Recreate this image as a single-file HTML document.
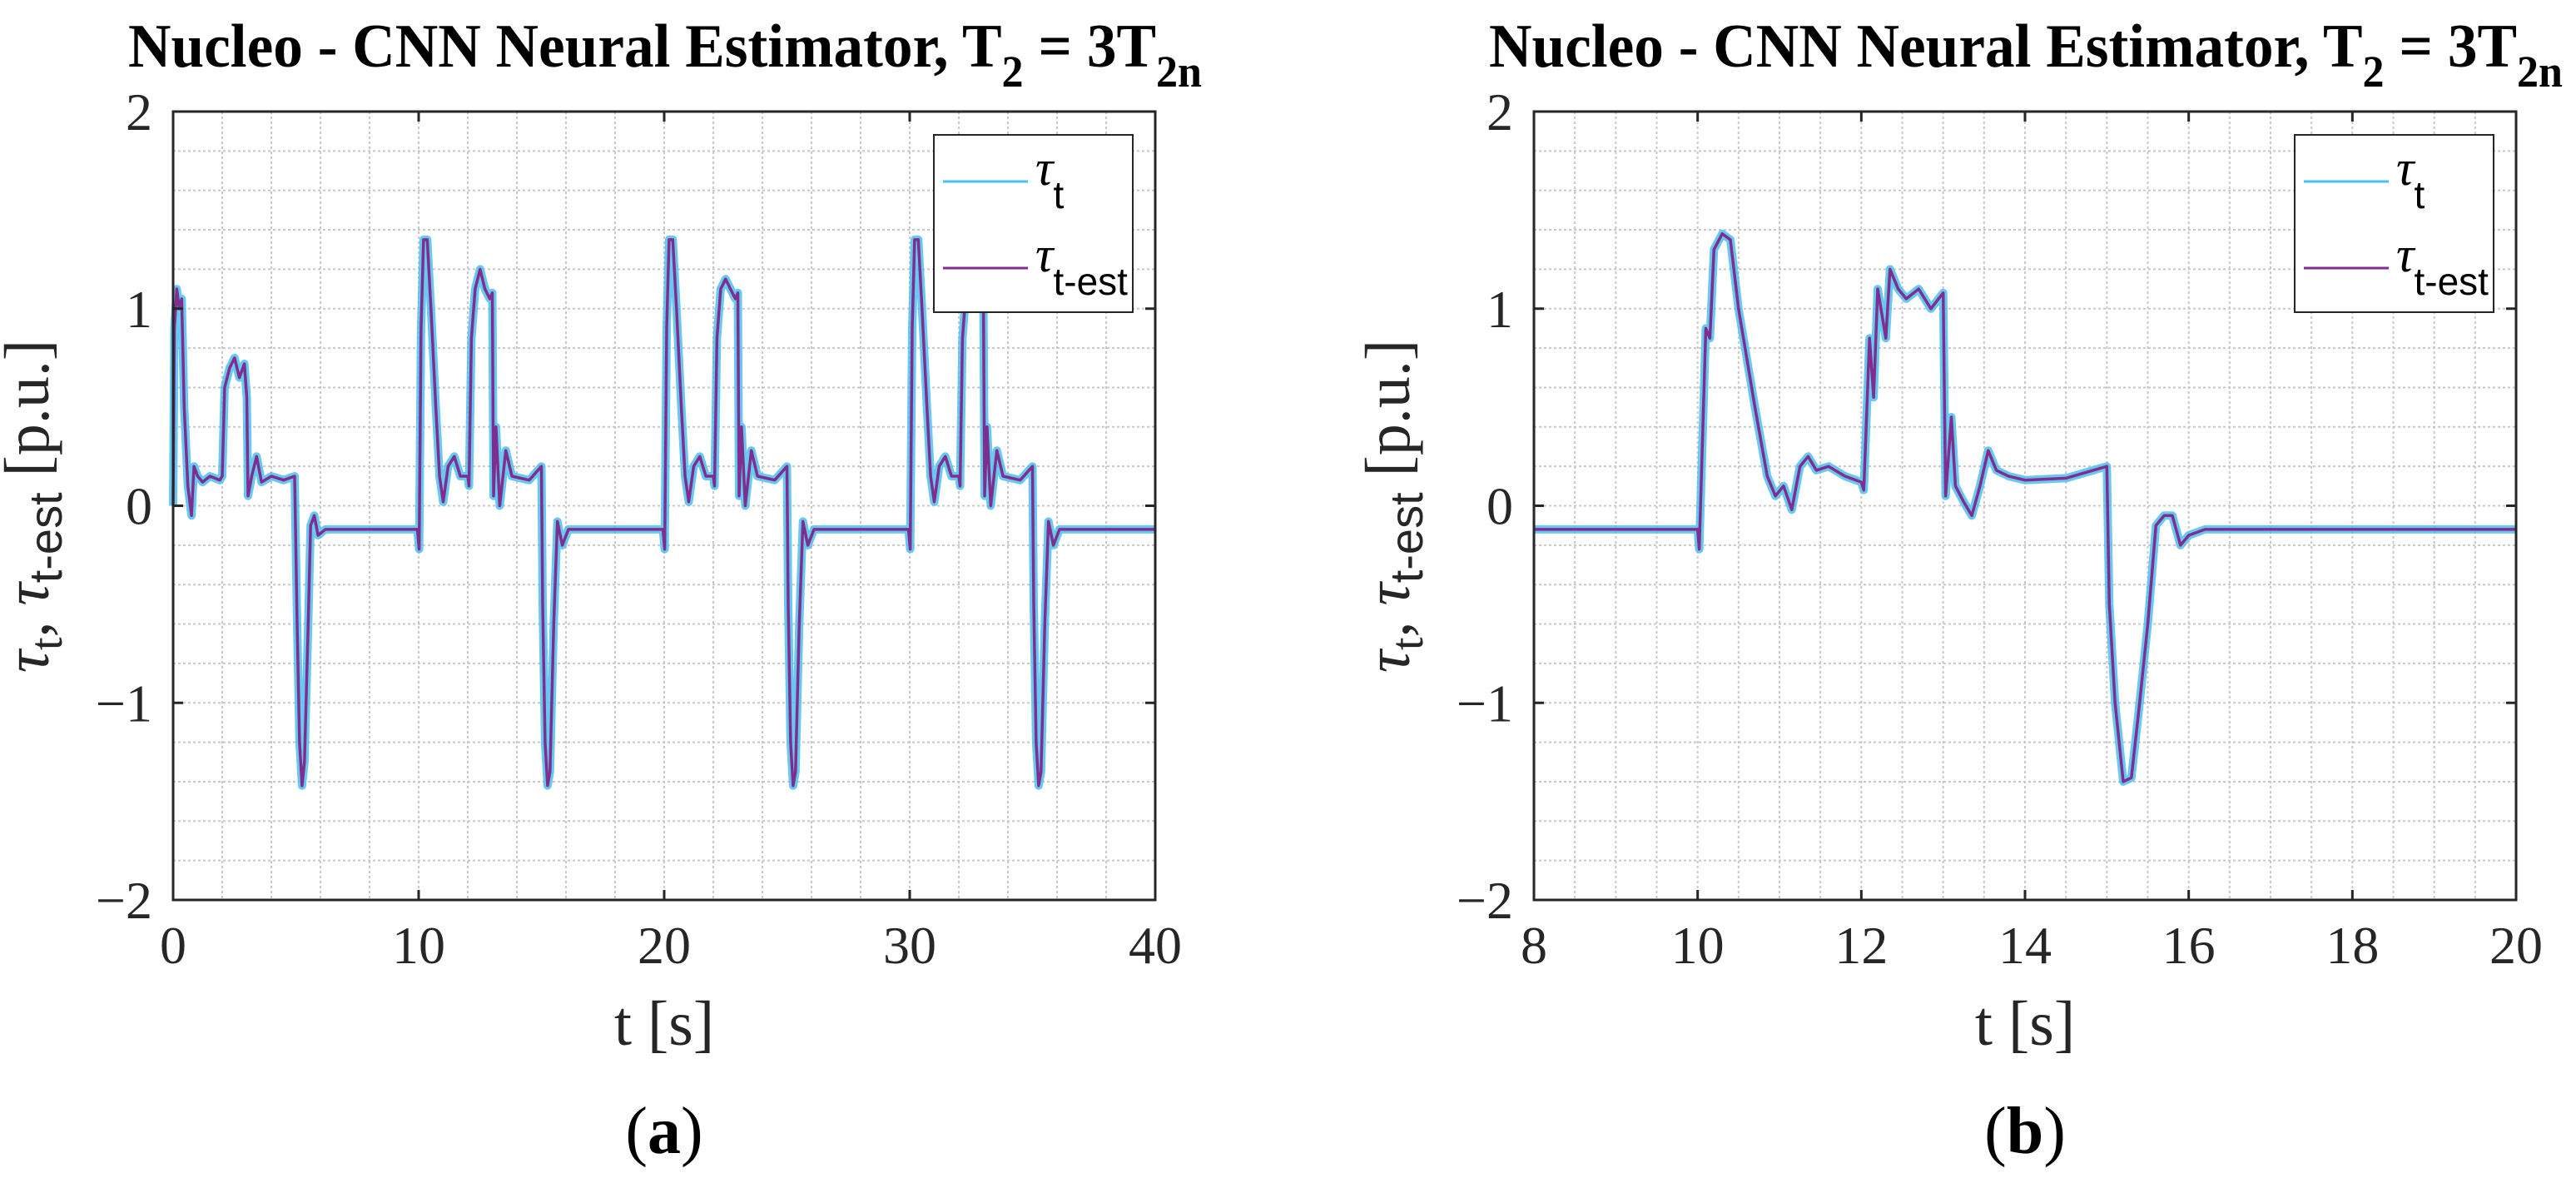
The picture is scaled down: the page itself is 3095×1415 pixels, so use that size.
<!DOCTYPE html>
<html><head><meta charset="utf-8"><style>
html,body{margin:0;padding:0;background:#fff;}
svg{display:block;font-family:"Liberation Serif","DejaVu Serif",serif;}
</style></head><body>
<svg id="fig" width="3095" height="1415" viewBox="0 0 3095 1415" xmlns="http://www.w3.org/2000/svg"></svg>
<script>
// ---- data ----
const aTimes = [0,0.05,0.15,0.25,0.35,0.45,0.6,0.75,0.85,1.0,1.2,1.5,1.9,2.0,2.1,2.3,2.5,2.7,2.9,3.0,3.05,3.2,3.4,3.6,4.0,4.5,4.95,5.05,5.15,5.25,5.35,5.5,5.6,5.75,5.9,6.2,7,8,9,9.95,10.02,10.1,10.2,10.35,10.5,10.7,10.85,11.0,11.2,11.45,11.7,12.0,12.05,12.15,12.3,12.5,12.7,12.9,13.0,13.05,13.15,13.3,13.55,13.8,14.5,15.0,15.05,15.15,15.25,15.35,15.5,15.65,15.85,16.1,17,18,19,19.95,20.02,20.1,20.2,20.35,20.5,20.7,20.85,21.0,21.2,21.45,21.7,22.0,22.05,22.15,22.3,22.5,22.7,22.9,23.0,23.05,23.15,23.3,23.55,23.8,24.5,25.0,25.05,25.15,25.25,25.35,25.5,25.65,25.85,26.1,27,28,29,29.95,30.02,30.1,30.2,30.35,30.5,30.7,30.85,31.0,31.2,31.45,31.7,32.0,32.05,32.15,32.3,32.5,32.7,32.9,33.0,33.05,33.15,33.3,33.55,33.8,34.5,35.0,35.05,35.15,35.25,35.35,35.5,35.65,35.85,36.1,37,38,39,40];
const aEst   = [0,0.9,1.1,1.0,1.05,0.5,0.1,-0.05,0.2,0.15,0.12,0.15,0.13,0.15,0.6,0.7,0.75,0.65,0.72,0.55,0.05,0.15,0.25,0.12,0.15,0.13,0.15,-0.6,-1.2,-1.42,-1.3,-0.6,-0.1,-0.05,-0.15,-0.12,-0.12,-0.12,-0.12,-0.12,-0.22,0.9,1.35,1.35,1.0,0.5,0.15,0.02,0.2,0.25,0.15,0.15,0.1,0.85,1.1,1.2,1.1,1.05,1.08,0.05,0.4,0.0,0.28,0.15,0.13,0.2,-0.5,-1.2,-1.42,-1.35,-0.6,-0.08,-0.2,-0.12,-0.12,-0.12,-0.12,-0.12,-0.22,0.9,1.35,1.35,1.0,0.5,0.15,0.02,0.2,0.25,0.15,0.15,0.1,0.85,1.1,1.15,1.1,1.05,1.08,0.05,0.4,0.0,0.28,0.15,0.13,0.2,-0.5,-1.2,-1.42,-1.35,-0.6,-0.08,-0.2,-0.12,-0.12,-0.12,-0.12,-0.12,-0.22,0.9,1.35,1.35,1.0,0.5,0.15,0.02,0.2,0.25,0.15,0.15,0.1,0.85,1.1,1.15,1.1,1.05,1.08,0.05,0.4,0.0,0.28,0.15,0.13,0.2,-0.5,-1.2,-1.42,-1.35,-0.6,-0.08,-0.2,-0.12,-0.12,-0.12,-0.12,-0.12];
const bTimes = [8,8.5,9,9.5,10.0,10.02,10.1,10.15,10.2,10.3,10.4,10.5,10.7,10.85,10.95,11.05,11.15,11.25,11.35,11.45,11.6,11.8,12.0,12.03,12.1,12.15,12.2,12.3,12.35,12.45,12.55,12.7,12.85,13.0,13.03,13.1,13.15,13.25,13.35,13.45,13.55,13.65,13.8,14.0,14.5,15.0,15.03,15.1,15.2,15.3,15.4,15.5,15.6,15.7,15.8,15.9,16.0,16.2,16.6,17,18,19,20];
const bEst   = [-0.12,-0.12,-0.12,-0.12,-0.12,-0.22,0.9,0.85,1.3,1.38,1.35,1.0,0.5,0.15,0.05,0.1,-0.02,0.2,0.25,0.18,0.2,0.15,0.12,0.08,0.85,0.55,1.1,0.85,1.2,1.1,1.05,1.1,1.0,1.08,0.05,0.45,0.1,0.02,-0.05,0.1,0.28,0.18,0.15,0.13,0.14,0.2,-0.5,-1.0,-1.4,-1.38,-1.0,-0.6,-0.1,-0.05,-0.05,-0.2,-0.15,-0.12,-0.12,-0.12,-0.12,-0.12,-0.12];
const yTicks = [2,1,0,-1,-2];
const yTickLabels = ["2","1","0","\u22121","\u22122"];
const aXTicks = [0,10,20,30,40];
const bXTicks = [8,10,12,14,16,18,20];

const NS="http://www.w3.org/2000/svg";
const svg=document.getElementById('fig');
function mk(tag,attrs,parent){const e=document.createElementNS(NS,tag);for(const k in attrs)e.setAttribute(k,attrs[k]);(parent||svg).appendChild(e);return e;}

const T=134,B=1081,H=B-T,W=1180;
function panel(L,x0,x1,xMinor,xTicks,times,est,tag,legX,lab){
  const g=mk('g',{});
  
  
  const xs=t=>L+(t-x0)/(x1-x0)*W;
  const ys=v=>T+(2-v)/4*H;
  for(let t=x0+xMinor;t<x1-1e-9;t+=xMinor){
    const l=mk('line',{x1:xs(t),x2:xs(t),y1:T,y2:B,stroke:'#c8c8c8','stroke-width':2,'stroke-dasharray':'3,3'},g);
    
    
  }
  for(let k=1;k<20;k++){
    const v=2-k*0.2;
    const l=mk('line',{x1:L,x2:L+W,y1:ys(v),y2:ys(v),stroke:'#c8c8c8','stroke-width':2,'stroke-dasharray':'3,3'},g);
    
    
  }
  const pts=times.map((t,i)=>xs(t).toFixed(1)+','+ys(est[i]).toFixed(1)).join(' ');
  const c=mk('polyline',{points:pts,fill:'none',stroke:'#4dbeee','stroke-width':10,'stroke-linejoin':'round','opacity':0.85},g);
  
  
  const p=mk('polyline',{points:pts,fill:'none',stroke:'#7e2f8e','stroke-width':3.5,'stroke-linejoin':'round'},g);
  
  
  const box=mk('rect',{x:L,y:T,width:W,height:H,fill:'none',stroke:'#262626','stroke-width':3},g);
  
  
  xTicks.forEach(t=>{
    mk('line',{x1:xs(t),x2:xs(t),y1:B,y2:B-12,stroke:'#262626','stroke-width':3},g);
    mk('line',{x1:xs(t),x2:xs(t),y1:T,y2:T+12,stroke:'#262626','stroke-width':3},g);
    const tx=mk('text',{x:xs(t),y:1157,'font-size':64,'text-anchor':'middle',fill:'#262626'},g);
    tx.textContent=String(t);
    
    
  });
  yTicks.forEach((v,i)=>{
    mk('line',{x1:L,x2:L+12,y1:ys(v),y2:ys(v),stroke:'#262626','stroke-width':3},g);
    mk('line',{x1:L+W,x2:L+W-12,y1:ys(v),y2:ys(v),stroke:'#262626','stroke-width':3},g);
    const tx=mk('text',{x:L-25,y:ys(v)+22,'font-size':64,'text-anchor':'end',fill:'#262626'},g);
    tx.textContent=yTickLabels[i];
    
    
  });
  const ti=mk('text',{x:L-54,y:80,'font-size':74,'font-weight':'bold','text-anchor':'start',fill:'#000',textLength:1290,lengthAdjust:'spacingAndGlyphs'},g);
  ti.innerHTML='Nucleo - CNN Neural Estimator, T<tspan font-size="54" dy="24">2</tspan><tspan dy="-24"> = 3T</tspan><tspan font-size="54" dy="24">2n</tspan>';
  
  
  const xl=mk('text',{x:L+W/2,y:1255,'font-size':76,'text-anchor':'middle',fill:'#262626'},g);
  xl.textContent='t [s]';
  
  
  const yl=mk('text',{x:0,y:0,'font-size':76,'text-anchor':'middle',fill:'#262626',transform:'translate('+(L-150)+',608) rotate(-90)'},g);
  yl.innerHTML='<tspan font-style="italic">\u03C4</tspan><tspan font-size="56" dy="16">t</tspan><tspan dy="-16">, </tspan><tspan font-style="italic">\u03C4</tspan><tspan font-size="56" dy="16" font-family="Liberation Sans, sans-serif">t-est</tspan><tspan dy="-16"> [p.u.]</tspan>';
  
  
  const lg=mk('g',{},g);
  
  
  mk('rect',{x:legX,y:162,width:L+W-27-legX,height:213,fill:'#fff',stroke:'#262626','stroke-width':2},lg);
  const e1=mk('line',{x1:legX+11,x2:legX+113,y1:218,y2:218,stroke:'#4dbeee','stroke-width':3},lg);
  
  
  const t1=mk('text',{x:legX+122,y:222,'font-size':60,'font-style':'italic',fill:'#000'},lg);
  t1.innerHTML='\u03C4<tspan font-style="normal" font-size="46" dy="28" font-family="Liberation Sans, sans-serif">t</tspan>';
  const e2=mk('line',{x1:legX+11,x2:legX+113,y1:322,y2:322,stroke:'#7e2f8e','stroke-width':3},lg);
  
  
  const t2=mk('text',{x:legX+122,y:326,'font-size':60,'font-style':'italic',fill:'#000'},lg);
  t2.innerHTML='\u03C4<tspan font-style="normal" font-size="46" dy="28" font-family="Liberation Sans, sans-serif">t-est</tspan>';
  const pl=mk('text',{x:L+W/2,y:1385,'font-size':80,'text-anchor':'middle',fill:'#000'},g);
  pl.innerHTML='(<tspan font-weight="bold">'+lab+'</tspan>)';
  
  
}
panel(208,0,40,2,aXTicks,aTimes,aEst,'a',1122,'a');
panel(1843,8,20,0.5,bXTicks,bTimes,bEst,'b',2757,'b');
</script>
</body></html>
